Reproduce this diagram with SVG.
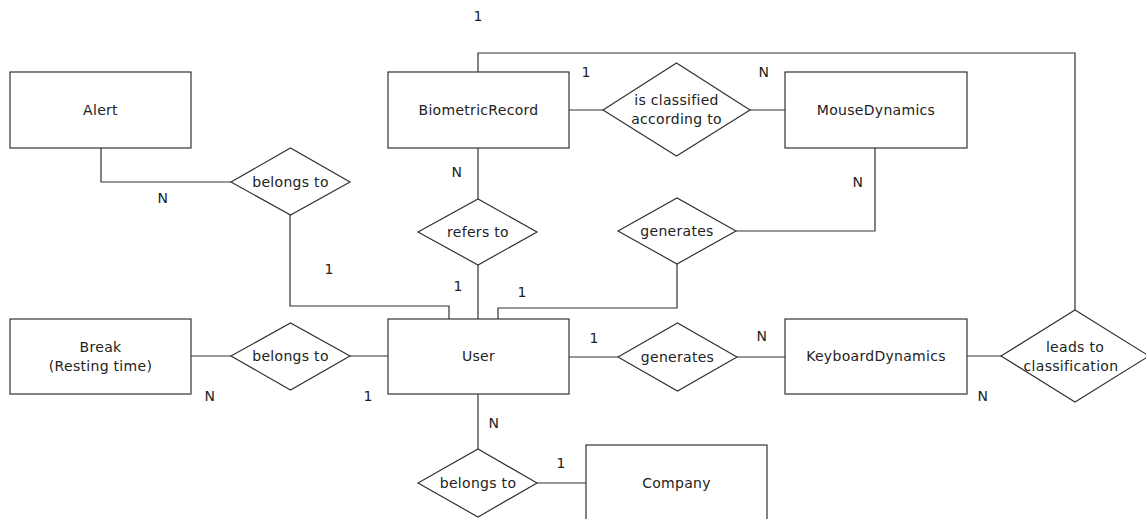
<svg xmlns="http://www.w3.org/2000/svg" width="1146" height="519" viewBox="0 0 1146 519">
  <style>
    .ent { fill: #fff; stroke: #333; stroke-width: 1.2; }
    .rel { fill: #fff; stroke: #333; stroke-width: 1.2; }
    .con { fill: none; stroke: #333; stroke-width: 1.2; }
    text { font-family: "DejaVu Sans", "Liberation Sans", sans-serif; font-size: 14px; letter-spacing: 0.3px; fill: #222; text-anchor: middle; dominant-baseline: central; }
  </style>
  <rect width="1146" height="519" fill="#fff"/>

  <!-- connectors -->
  <g id="connectors">
    <polyline class="con" points="101,148 101,182 231,182"/>
    <polyline class="con" points="290,215 290,306 449,306 449,319"/>
    <line class="con" x1="191" y1="356" x2="231" y2="356"/>
    <line class="con" x1="350" y1="356" x2="388" y2="356"/>
    <line class="con" x1="478" y1="148" x2="478" y2="199"/>
    <line class="con" x1="478" y1="265" x2="478" y2="319"/>
    <polyline class="con" points="478,72 478,53 1075,53 1075,310"/>
    <line class="con" x1="569" y1="110" x2="603" y2="110"/>
    <line class="con" x1="750" y1="110" x2="785" y2="110"/>
    <polyline class="con" points="875,148 875,231 736,231"/>
    <polyline class="con" points="677,264 677,308 498,308 498,319"/>
    <line class="con" x1="569" y1="357" x2="618" y2="357"/>
    <line class="con" x1="737" y1="357" x2="785" y2="357"/>
    <line class="con" x1="967" y1="356" x2="1001" y2="356"/>
    <line class="con" x1="478" y1="394" x2="478" y2="449"/>
    <line class="con" x1="537" y1="483" x2="586" y2="483"/>
    <!-- cardinalities -->
    <text x="163" y="198">N</text>
    <text x="329" y="269">1</text>
    <text x="210" y="396">N</text>
    <text x="368" y="396">1</text>
    <text x="457" y="172">N</text>
    <text x="458" y="286">1</text>
    <text x="478" y="16">1</text>
    <text x="586" y="72">1</text>
    <text x="764" y="72">N</text>
    <text x="858" y="182">N</text>
    <text x="522" y="292">1</text>
    <text x="594" y="338">1</text>
    <text x="762" y="336">N</text>
    <text x="983" y="396">N</text>
    <text x="494" y="423">N</text>
    <text x="561" y="463">1</text>
  </g>

  <!-- entities -->
  <g id="alert">
    <rect class="ent" x="10" y="72" width="181" height="76"/>
    <text x="100.5" y="110">Alert</text>
  </g>
  <g id="biometric-record">
    <rect class="ent" x="388" y="72" width="181" height="76"/>
    <text x="478.5" y="110">BiometricRecord</text>
  </g>
  <g id="mouse-dynamics">
    <rect class="ent" x="785" y="72" width="182" height="76"/>
    <text x="876" y="110">MouseDynamics</text>
  </g>
  <g id="break">
    <rect class="ent" x="10" y="319" width="181" height="75"/>
    <text x="100.5" y="347">Break</text>
    <text x="100.5" y="366">(Resting time)</text>
  </g>
  <g id="user">
    <rect class="ent" x="388" y="319" width="181" height="75"/>
    <text x="478.5" y="356">User</text>
  </g>
  <g id="keyboard-dynamics">
    <rect class="ent" x="785" y="319" width="182" height="75"/>
    <text x="876" y="356">KeyboardDynamics</text>
  </g>
  <g id="company">
    <rect class="ent" x="586" y="445" width="181" height="76"/>
    <text x="676.5" y="483">Company</text>
  </g>

  <!-- relationships -->
  <g id="alert-belongs-to">
    <polygon class="rel" points="231,182 290.5,148 350,182 290.5,215"/>
    <text x="290.5" y="182">belongs to</text>
  </g>
  <g id="break-belongs-to">
    <polygon class="rel" points="231,356 290.5,323 350,356 290.5,390"/>
    <text x="290.5" y="356">belongs to</text>
  </g>
  <g id="refers-to">
    <polygon class="rel" points="418,232 478,199 537,232 478,265"/>
    <text x="478" y="232">refers to</text>
  </g>
  <g id="is-classified">
    <polygon class="rel" points="603,110 676.5,63 750,110 676.5,156"/>
    <text x="676.5" y="100">is classified</text>
    <text x="676.5" y="119">according to</text>
  </g>
  <g id="generates-mouse">
    <polygon class="rel" points="618,231 677,198 736,231 677,264"/>
    <text x="677" y="231">generates</text>
  </g>
  <g id="generates-keyboard">
    <polygon class="rel" points="618,357 677.5,323 737,357 677.5,391"/>
    <text x="677.5" y="357">generates</text>
  </g>
  <g id="leads-to-classification">
    <polygon class="rel" points="1001,356 1075,310 1149,356 1075,402"/>
    <text x="1075" y="347">leads to</text>
    <text x="1071" y="366">classification</text>
  </g>
  <g id="user-belongs-to">
    <polygon class="rel" points="418,483 478,449 537,483 478,517"/>
    <text x="478" y="483">belongs to</text>
  </g>
</svg>
